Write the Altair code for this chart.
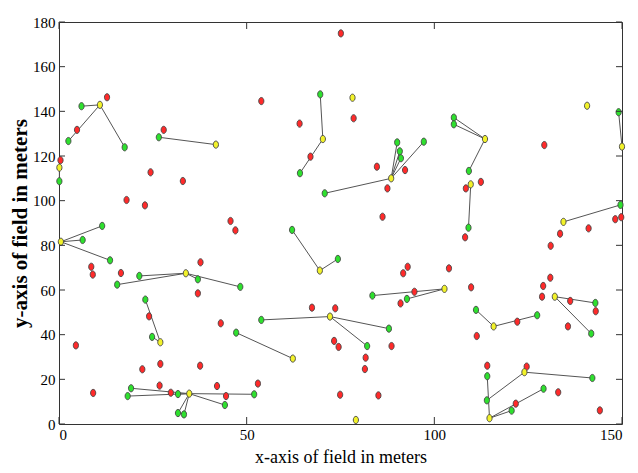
import altair as alt
import pandas as pd

# ---- data ----
red_x = [12.8, 4.8, 27.9, 75.1, 53.9, 64.1, 78.5, 129.3, 0.4, 24.4, 33.0, 18.0, 22.9, 45.7, 47.0,
         8.6, 9.0, 16.5, 37.7, 67.0, 84.7, 92.2, 87.5, 86.2, 92.9, 91.7, 103.9, 108.4, 112.4, 108.2,
         148.2, 149.8, 141.1, 133.5, 131.0, 130.9, 129.0, 109.8, 24.0, 37.0, 43.1, 4.5, 27.0, 22.2,
         37.6, 9.1, 26.8, 42.1, 29.8, 44.5, 94.7, 91.0, 67.4, 73.6, 73.3, 74.5, 88.6, 81.7, 81.5,
         53.0, 74.9, 85.1, 128.7, 136.2, 143.0, 135.6, 122.1, 111.3, 114.1, 124.6, 133.0, 121.7, 144.1]
red_y = [146.3, 131.7, 131.7, 174.9, 144.6, 134.5, 136.9, 124.9, 118.1, 112.7, 108.8, 100.3, 97.9, 90.9, 86.7,
         70.4, 66.9, 67.6, 72.4, 119.7, 115.2, 113.7, 105.5, 92.8, 70.4, 67.5, 69.7, 105.5, 108.4, 83.6,
         91.7, 92.6, 87.6, 85.2, 79.8, 65.5, 61.8, 61.2, 48.2, 58.5, 45.1, 35.2, 26.9, 24.5,
         26.1, 13.9, 17.2, 17.0, 14.0, 12.5, 59.2, 54.0, 52.1, 51.8, 37.2, 34.5, 34.9, 29.7, 24.6,
         18.1, 13.1, 12.8, 57.0, 55.1, 50.5, 43.7, 45.8, 39.4, 26.1, 25.7, 14.2, 9.1, 6.1]

green_x = [6.0, 2.5, 17.5, 26.6, 69.6, 90.1, 90.8, 91.1, 97.2, 105.2, 105.2, 149.1, 0.1, 11.5, 6.3,
           13.6, 21.4, 15.5, 37.0, 48.3, 64.2, 70.8, 62.1, 74.3, 109.2, 109.1, 149.6, 23.0, 24.8, 47.2,
           19.2, 18.3, 31.7, 52.0, 44.2, 31.7, 33.3, 83.5, 92.7, 53.9, 87.9, 82.1, 142.9, 141.8, 111.1,
           127.4, 114.1, 142.1, 114.0, 129.1, 120.6]
green_y = [142.3, 126.7, 123.9, 128.4, 147.6, 126.1, 122.1, 119.0, 126.4, 137.2, 134.2, 139.6, 108.7, 88.7, 82.4,
           73.3, 66.3, 62.4, 64.8, 61.4, 112.3, 103.3, 86.9, 73.9, 113.3, 87.9, 98.1, 55.7, 39.0, 40.9,
           16.0, 12.5, 13.4, 13.3, 8.5, 4.9, 4.3, 57.5, 56.0, 46.6, 42.7, 34.9, 54.2, 40.5, 51.1,
           48.7, 21.4, 20.6, 10.6, 15.8, 6.0]

yellow_x = [10.9, 41.8, 78.2, 70.3, 113.5, 140.7, 150.0, 0.1, 0.5, 33.8, 88.5, 69.5, 109.7, 134.4,
            102.7, 27.0, 34.7, 72.2, 62.3, 79.1, 132.1, 115.8, 124.0, 114.7]
yellow_y = [142.9, 125.1, 146.1, 127.6, 127.6, 142.5, 124.2, 114.8, 81.6, 67.5, 110.0, 68.7, 107.3, 90.5,
            60.5, 36.6, 13.6, 48.1, 29.3, 1.8, 57.0, 43.7, 23.2, 2.6]

# links: green node index -> yellow (cluster head) index
link_green = [0, 1, 2, 3, 4, 20, 5, 6, 7, 8, 21, 9, 10, 24, 11, 12, 13, 14, 15, 16, 17, 18, 19,
              22, 23, 25, 26, 27, 28, 29, 30, 31, 32, 33, 34, 35, 36, 37, 38, 39, 40, 41, 42, 43,
              44, 45, 47, 48, 46, 49, 50]
link_yellow = [0, 0, 0, 1, 3, 3, 10, 10, 10, 10, 10, 4, 4, 4, 6, 7, 8, 8, 8, 9, 9, 9, 9,
               11, 11, 12, 13, 15, 15, 18, 16, 16, 16, 16, 16, 16, 16, 14, 14, 17, 17, 17, 20, 20,
               21, 21, 22, 22, 23, 23, 23]

x_ticks = [0, 50, 100, 150]
y_ticks = [0, 20, 40, 60, 80, 100, 120, 140, 160, 180]

# ---- tables ----
nodes = pd.concat([
    pd.DataFrame({"x": red_x, "y": red_y, "type": "normal"}),
    pd.DataFrame({"x": green_x, "y": green_y, "type": "member"}),
    pd.DataFrame({"x": yellow_x, "y": yellow_y, "type": "head"}),
], ignore_index=True)

links = pd.DataFrame({
    "x1": [green_x[g] for g in link_green],
    "y1": [green_y[g] for g in link_green],
    "x2": [yellow_x[h] for h in link_yellow],
    "y2": [yellow_y[h] for h in link_yellow],
})

W, H = 563, 402
xs = alt.Scale(domain=[0, 150], nice=False, zero=False)
ys = alt.Scale(domain=[0, 180], nice=False, zero=False)

x_axis = alt.Axis(values=x_ticks, title="x-axis of field in meters", titleFontSize=18,
                  titlePadding=6, labelPadding=3)
y_axis = alt.Axis(values=y_ticks, title="y-axis of field in meters", titleFontSize=21,
                  titleFontWeight="bold", titlePadding=2, labelPadding=4)

edge_layer = alt.Chart(links).mark_rule(color="#555555", strokeWidth=1).encode(
    x=alt.X("x1:Q", scale=xs, axis=x_axis),
    y=alt.Y("y1:Q", scale=ys, axis=y_axis),
    x2="x2:Q",
    y2="y2:Q",
)

ellipse = "M-0.72,0 A0.72,1 0 1,0 0.72,0 A0.72,1 0 1,0 -0.72,0 Z"
point_layer = alt.Chart(nodes).mark_point(
    shape=ellipse, filled=True, size=52, stroke="#444444", strokeWidth=0.9, opacity=1
).encode(
    x=alt.X("x:Q", scale=xs, axis=x_axis),
    y=alt.Y("y:Q", scale=ys, axis=y_axis),
    fill=alt.Fill("type:N", scale=alt.Scale(domain=["normal", "member", "head"],
                                             range=["#ff2a2a", "#2ee02e", "#f2f22a"]), legend=None),
)

xt = pd.DataFrame({"v": x_ticks})
yt = pd.DataFrame({"v": y_ticks})
tick_style = dict(color="#333333", strokeWidth=1)
bottom_ticks = alt.Chart(xt).mark_rule(**tick_style).encode(
    x=alt.X("v:Q", scale=xs, axis=x_axis), y=alt.value(H), y2=alt.value(H - 7))
top_ticks = alt.Chart(xt).mark_rule(**tick_style).encode(
    x=alt.X("v:Q", scale=xs, axis=x_axis), y=alt.value(0), y2=alt.value(7))
left_ticks = alt.Chart(yt).mark_rule(**tick_style).encode(
    y=alt.Y("v:Q", scale=ys, axis=y_axis), x=alt.value(0), x2=alt.value(6))
right_ticks = alt.Chart(yt).mark_rule(**tick_style).encode(
    y=alt.Y("v:Q", scale=ys, axis=y_axis), x=alt.value(W), x2=alt.value(W - 6))

chart = alt.layer(
    edge_layer, point_layer, bottom_ticks, top_ticks, left_ticks, right_ticks
).properties(
    width=W, height=H,
    autosize=alt.AutoSizeParams(type="none"),
    padding={"left": 59, "top": 22, "right": 16, "bottom": 49},
    background="white",
).configure_view(
    stroke="#333333", strokeWidth=1
).configure_axis(
    grid=False, ticks=False, domain=False,
    labelFont="Liberation Serif", titleFont="Liberation Serif",
    labelFontSize=15, labelColor="black", titleColor="black", titleFontWeight="normal",
)

chart.save("out.html", embed_options={"renderer": "svg", "actions": False})
